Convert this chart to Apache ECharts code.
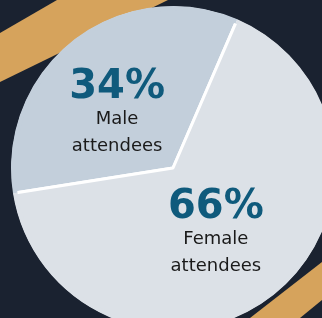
<!DOCTYPE html>
<html>
<head>
<meta charset="utf-8">
<script src="https://cdn.jsdelivr.net/npm/echarts@6/dist/echarts.min.js"></script>
<style>
  html, body { margin: 0; padding: 0; background: #1a2230; }
  #chart { width: 322px; height: 318px; }
</style>
</head>
<body>
<div id="chart"></div>
<script>
// chart data
const groups = ['Male attendees', 'Female attendees'];
const shortNames = ['Male', 'Female'];
const shares = [34, 66];
const sliceColors = ['#c3cfdb', '#dce1e7'];
// nudges for the inside labels
const labelPads = [[24, 10, 0, 0], [2, 16, 0, 0]];

let myChart = echarts.init(document.getElementById('chart'));

let seriesData = [];
let rimData = [];
for (let i = 0; i < groups.length; i++) {
    seriesData.push({
        name: groups[i],
        value: shares[i],
        itemStyle: { color: sliceColors[i] },
        label: {
            padding: labelPads[i],
            formatter: '{p|' + shares[i] + '%}\n{n|' + shortNames[i] + '}\n{n|attendees}'
        }
    });
    rimData.push({
        name: groups[i],
        value: shares[i],
        itemStyle: { color: sliceColors[i] }
    });
}

let options = {
    backgroundColor: '#1a2230',
    animation: false,
    // background streaks (decoration only)
    graphic: [
        {
            type: 'polygon', z: -10,
            shape: { points: [[0, 33], [57, 0], [168, 0], [0, 82]] },
            style: { fill: '#d6a35c' }
        },
        {
            type: 'polygon', z: -10,
            shape: { points: [[322, 262], [322, 300], [300, 318], [250, 318]] },
            style: { fill: '#d6a35c' }
        }
    ],
    series: [
        {
            name: 'attendees',
            type: 'pie',
            center: [173, 168],
            radius: 160,
            startAngle: 189,
            clockwise: true,
            silent: true,
            data: seriesData,
            itemStyle: {
                borderColor: '#ffffff',
                borderWidth: 3
            },
            label: {
                show: true,
                position: 'inside',
                align: 'center',
                rich: {
                    p: {
                        fontFamily: 'DejaVu Sans',
                        fontWeight: 'bold',
                        fontSize: 40,
                        color: '#0f5a7c',
                        lineHeight: 36
                    },
                    n: {
                        fontFamily: 'DejaVu Sans',
                        fontSize: 18,
                        color: '#1a1a1a',
                        lineHeight: 27
                    }
                }
            },
            labelLine: { show: false }
        },
        {
            // rim ring that hides the white outer edge of the border
            name: 'rim',
            type: 'pie',
            center: [173, 168],
            radius: [157.5, 162],
            startAngle: 189,
            clockwise: true,
            silent: true,
            z: 3,
            data: rimData,
            itemStyle: { borderWidth: 0 },
            label: { show: false },
            labelLine: { show: false }
        }
    ]
};

myChart.setOption(options);
</script>
</body>
</html>
